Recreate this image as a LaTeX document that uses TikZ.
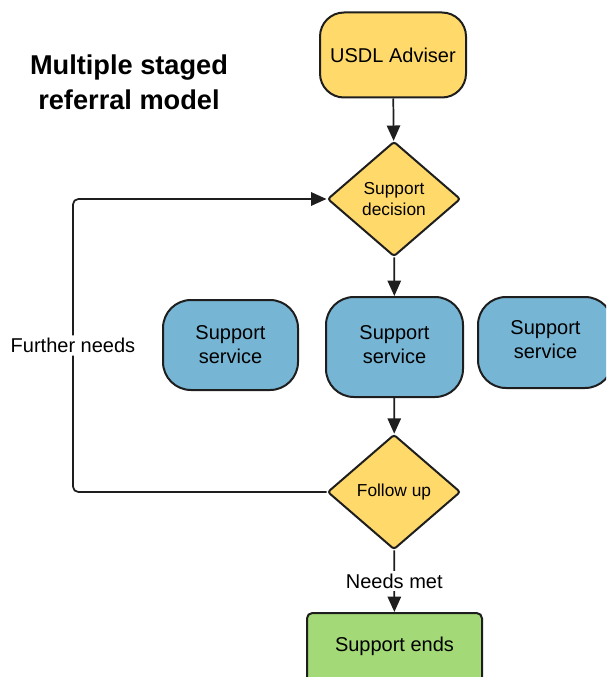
\documentclass[tikz,border=0pt]{standalone}
\usepackage{fontspec}
\setmainfont{Liberation Sans}
\usetikzlibrary{shapes.geometric,arrows.meta}
\definecolor{ideayellow}{HTML}{FFD96A}
\definecolor{serviceblue}{HTML}{76B5D4}
\definecolor{endgreen}{HTML}{A3D977}
\definecolor{edge}{HTML}{1E1E1E}
\begin{document}
\begin{tikzpicture}[x=0.75pt,y=-0.75pt,
  box/.style={draw=edge,line width=1.5pt,align=center,font=\fontsize{15}{18}\selectfont},
  adviser/.style={box,fill=ideayellow,rounded corners=18pt,minimum width=109.5pt,minimum height=63.75pt},
  choice/.style={box,diamond,fill=ideayellow,rounded corners=2pt,inner sep=0pt,
    minimum width=99.75pt,minimum height=86.25pt,font=\fontsize{13}{16}\selectfont},
  service/.style={box,fill=serviceblue,rounded corners=21pt,minimum width=101.25pt,minimum height=67.5pt},
  finish/.style={box,fill=endgreen,rounded corners=4pt,minimum width=131.25pt,minimum height=55.5pt},
  flow/.style={draw=edge,line width=1.3pt,-{Triangle[length=11.5pt,width=10pt]}},
  lbl/.style={fill=white,inner sep=2pt,font=\fontsize{15}{18}\selectfont}]
  \useasboundingbox (0,0) rectangle (606,677);
  \clip (0,0) rectangle (606,677);
  % title
  \node [align=center,font=\bfseries\fontsize{20.4}{26}\selectfont] (title) at (129,82)
    {Multiple staged\\referral model};
  % nodes
  \node [adviser] (u) at (393,55) {USDL Adviser};
  \node [choice] (d) at (394,199) {Support\\decision};
  \node [service] (s1) at (230.5,345) {Support\\service};
  \node [service,minimum width=102.75pt,minimum height=75pt,text depth=4pt] (s2) at (394.5,347) {Support\\service};
  \node [service,minimum height=68.25pt,text depth=4pt] (s3) at (545.5,342.5) {Support\\service};
  \node [choice] (f) at (394,492) {Follow up};
  \node [finish,text depth=8pt] (e) at (394.5,650) {Support ends};
  % connectors
  \draw [flow] (u) -- (d);
  \draw [flow] (d) -- (s2);
  \draw [flow] (s2) -- (f);
  \draw [flow] (f) -- node [lbl] {Needs met} (e);
  \draw [flow,rounded corners=4pt] (f.west) -- (73,492) |- node [lbl,pos=0.25] {Further needs} (d.west);
\end{tikzpicture}
\end{document}
